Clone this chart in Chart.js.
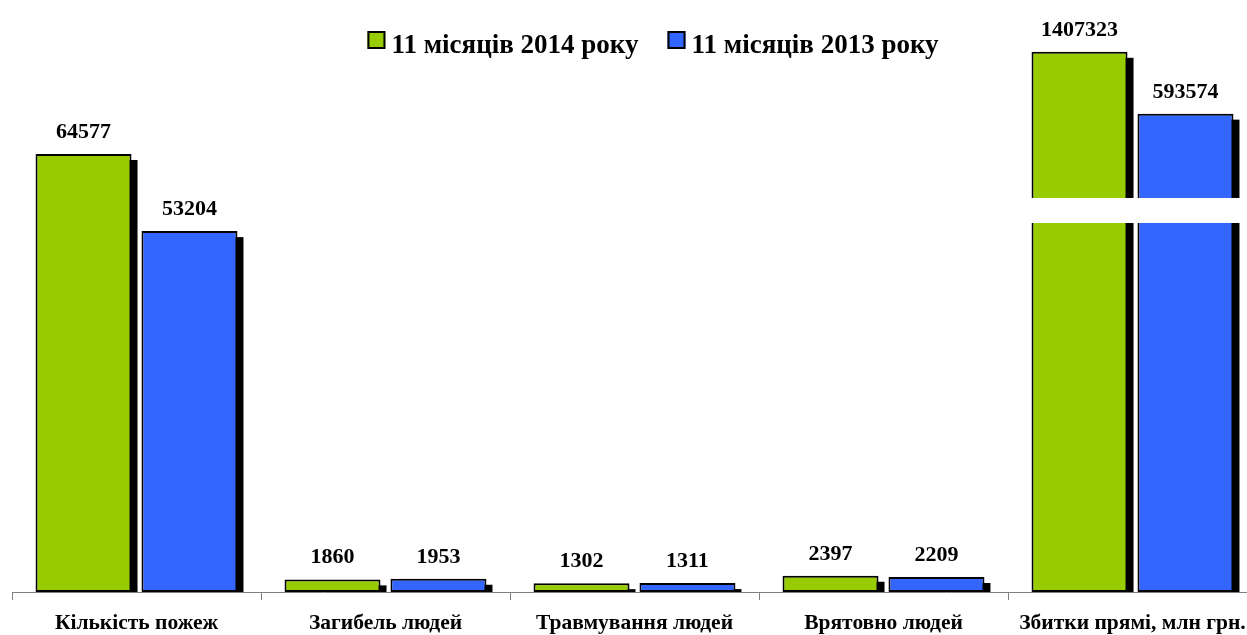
<!DOCTYPE html>
<html>
<head>
<meta charset="utf-8">
<script src="https://cdn.jsdelivr.net/npm/chart.js@4"></script>
<style>
  html, body { margin: 0; padding: 0; background: #fff; overflow: hidden; }
  #wrap { width: 1257px; height: 635px; }
</style>
</head>
<body>
<div id="wrap"><canvas id="chart"></canvas></div>
<script>
// --- Data ---
const categories = ['Кількість пожеж', 'Загибель людей', 'Травмування людей', 'Врятовно людей', 'Збитки прямі, млн грн.'];
const seriesLabels = ['11 місяців 2014 року', '11 місяців 2013 року'];
const values2014 = [64577, 1860, 1302, 2397, 1407323];
const values2013 = [53204, 1953, 1311, 2209, 593574];

const seriesColors = ['#99CC00', '#3366FF'];
const FONT = '"Liberation Serif", "Times New Roman", serif';

// --- Broken value axis ---
// values above BREAK_AT are squeezed so the huge losses bar fits
const BREAK_AT = 64600;
const ABOVE_RATIO = 0.0112;
const AXIS_MAX = 87277;           // in squeezed units
const BREAK_GAP = [54400, 58090]; // white cut drawn through the squeezed bars

function squash(v) {
    return v <= BREAK_AT ? v : BREAK_AT + (v - BREAK_AT) * ABOVE_RATIO;
}
function unsquash(v) {
    return v <= BREAK_AT ? v : BREAK_AT + (v - BREAK_AT) / ABOVE_RATIO;
}

class BrokenLinearScale extends Chart.LinearScale {
    getPixelForValue(value) {
        return super.getPixelForValue(squash(value));
    }
    getValueForPixel(pixel) {
        return unsquash(super.getValueForPixel(pixel));
    }
}
BrokenLinearScale.id = 'brokenLinear';
BrokenLinearScale.defaults = Chart.LinearScale.defaults;
Chart.register(BrokenLinearScale);

// --- Plugins ---
const barShadow = {
    id: 'barShadow',
    beforeDatasetsDraw(chart) {
        const ctx = chart.ctx;
        ctx.save();
        ctx.fillStyle = '#000';
        chart.data.datasets.forEach((ds, i) => {
            chart.getDatasetMeta(i).data.forEach(bar => {
                const { x, y, base, width } = bar.getProps(['x', 'y', 'base', 'width'], true);
                ctx.fillRect(x - width / 2 + 6, y + 6, width, base - y - 6);
            });
        });
        ctx.restore();
    }
};

const breakAndLabels = {
    id: 'breakAndLabels',
    afterDatasetsDraw(chart) {
        const ctx = chart.ctx;
        const yScale = chart.scales.y;
        ctx.save();

        // white cut across the squeezed category
        categories.forEach((c, idx) => {
            const tall = chart.data.datasets.some(ds => ds.data[idx] > BREAK_AT);
            if (!tall) return;
            const first = chart.getDatasetMeta(0).data[idx];
            const last = chart.getDatasetMeta(chart.data.datasets.length - 1).data[idx];
            const left = first.x - first.width / 2 - 3;
            const right = last.x + last.width / 2 + 9;
            const top = yScale.getPixelForValue(BREAK_GAP[1]);
            const bottom = yScale.getPixelForValue(BREAK_GAP[0]);
            ctx.fillStyle = '#fff';
            ctx.fillRect(left, top, right - left, bottom - top);
        });

        // value labels
        ctx.fillStyle = '#000';
        ctx.font = 'bold 22px ' + FONT;
        ctx.textAlign = 'center';
        ctx.textBaseline = 'alphabetic';
        chart.data.datasets.forEach((ds, i) => {
            chart.getDatasetMeta(i).data.forEach((bar, j) => {
                ctx.fillText(String(ds.data[j]), bar.x, bar.y - 16);
            });
        });
        ctx.restore();
    }
};

const topLegend = {
    id: 'topLegend',
    afterDraw(chart) {
        const ctx = chart.ctx;
        const box = 18, gapText = 6, gapItem = 29, centerX = 653, boxTop = 31, baseline = 53;
        ctx.save();
        ctx.font = 'bold 27px ' + FONT;
        const widths = chart.data.datasets.map(ds => ctx.measureText(ds.label).width);
        const total = widths.reduce((a, w) => a + box + gapText + w, 0) + gapItem * (widths.length - 1);
        let x = centerX - total / 2;
        chart.data.datasets.forEach((ds, i) => {
            ctx.fillStyle = ds.backgroundColor;
            ctx.fillRect(x, boxTop, box, box);
            ctx.strokeStyle = '#000';
            ctx.lineWidth = 2;
            ctx.strokeRect(x + 1, boxTop + 1, box - 2, box - 2);
            ctx.fillStyle = '#000';
            ctx.textAlign = 'left';
            ctx.textBaseline = 'alphabetic';
            ctx.fillText(ds.label, x + box + gapText, baseline);
            x += box + gapText + widths[i] + gapItem;
        });
        ctx.restore();
    }
};

// --- Chart.js Setup ---
const ctx = document.getElementById('chart').getContext('2d');
const chart = new Chart(ctx, {
    type: 'bar',
    data: {
        labels: categories,
        datasets: [
            { label: seriesLabels[0], data: values2014, backgroundColor: seriesColors[0] },
            { label: seriesLabels[1], data: values2013, backgroundColor: seriesColors[1] }
        ]
    },
    options: {
        responsive: true,
        maintainAspectRatio: false,
        animation: false,
        layout: { padding: { left: 12, right: 0, top: 0, bottom: 0 } },
        datasets: {
            bar: {
                borderColor: '#000',
                borderWidth: 2,
                borderSkipped: false,
                categoryPercentage: 0.851,
                barPercentage: 0.906
            }
        },
        plugins: {
            legend: { display: false },
            tooltip: { enabled: false }
        },
        scales: {
            x: {
                grid: { display: true, drawOnChartArea: false, drawTicks: true, tickLength: 8, color: '#808080', offset: true },
                border: { display: true, color: '#808080', width: 1 },
                ticks: {
                    color: '#000',
                    font: { family: FONT, size: 21.5, weight: 'bold' },
                    padding: 11,
                    maxRotation: 0,
                    autoSkip: false
                },
                afterFit(scale) {
                    scale.height = 43;
                    // labels may overhang the edge; keep the plot full width
                    scale.paddingLeft = 0;
                    scale.paddingRight = 0;
                }
            },
            y: {
                type: 'brokenLinear',
                display: false,
                min: 0,
                max: AXIS_MAX
            }
        }
    },
    plugins: [barShadow, breakAndLabels, topLegend]
});
</script>
</body>
</html>
